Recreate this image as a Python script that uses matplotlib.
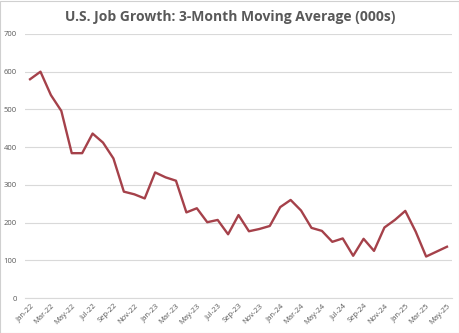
import matplotlib
matplotlib.use("Agg")
import matplotlib.pyplot as plt
import pandas as pd

# 3-month moving average of nonfarm payroll growth, thousands of jobs
months = pd.date_range("2022-01-01", "2025-05-01", freq="MS")
month_labels = [d.strftime("%b-%y") for d in months]
job_growth = [
    580, 600, 538, 496, 384, 384, 436, 412, 370, 282, 275, 264,   # 2022
    333, 320, 311, 227, 238, 201, 207, 169, 220, 177, 183, 191,   # 2023
    241, 260, 232, 186, 178, 149, 158, 112, 157, 125, 187, 207,   # 2024
    231, 176, 110, 123, 136,                                      # 2025
]
y_ticks = [0, 100, 200, 300, 400, 500, 600, 700]

text_gray = "#595959"
grid_gray = "#d9d9d9"
line_red = "#a5414a"

fig = plt.figure(figsize=(4.6, 3.33), dpi=100)
ax = fig.add_axes([0.054, 0.105, 0.929, 0.793])

x = list(range(len(job_growth)))
ax.plot(x, job_growth, color=line_red, linewidth=1.7, solid_joinstyle="round")

ax.set_xlim(-0.5, len(job_growth) - 0.5)
ax.set_ylim(0, 700)
ax.set_yticks(y_ticks)
ax.set_yticklabels([str(v) for v in y_ticks], fontsize=5.5, color=text_gray,
                   family=["Open Sans", "DejaVu Sans"])
ax.set_xticks(x[::2])
ax.set_xticklabels(month_labels[::2], rotation=45, ha="right", va="top",
                   rotation_mode="anchor", fontsize=5.5, color=text_gray,
                   family=["Open Sans", "DejaVu Sans"])

ax.grid(axis="y", color=grid_gray, linewidth=0.8)
ax.set_axisbelow(True)
for side in ("top", "right", "left"):
    ax.spines[side].set_visible(False)
ax.spines["bottom"].set_color(grid_gray)
ax.spines["bottom"].set_linewidth(0.8)
ax.tick_params(axis="both", length=0, pad=6)
ax.tick_params(axis="x", pad=3)

fig.text(0.5, 0.948, "U.S. Job Growth: 3-Month Moving Average (000s)",
         ha="center", va="center", fontsize=10, fontweight="bold",
         color=text_gray, family=["Open Sans", "DejaVu Sans"])

fig.patches.append(plt.Rectangle((0.001, 0.001), 0.997, 0.997, transform=fig.transFigure,
                                 fill=False, edgecolor="#d0d0d0", linewidth=0.8))

fig.savefig("out.png", dpi=100, facecolor="white")
